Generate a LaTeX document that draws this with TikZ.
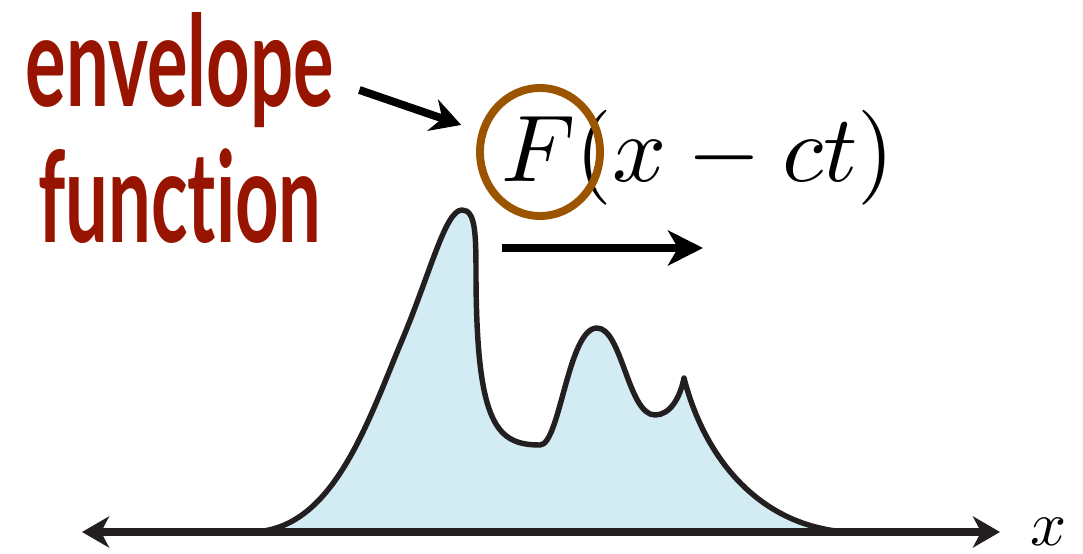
\documentclass[tikz,border=0pt]{standalone}
\usepackage{fontspec}
\usepackage{amsmath}
\usepackage{graphicx}
\usepackage{xcolor}
\usepackage{tikz}
\usetikzlibrary{arrows.meta, positioning, shapes}

\newfontfamily\labelfont[FakeStretch=0.6, Ligatures=NoCommon]{Lato}

\definecolor{wordred}{HTML}{961400}
\definecolor{ringbrown}{HTML}{9B5500}
\definecolor{pulsefill}{HTML}{D3ECF3}
\definecolor{inkblack}{HTML}{231F20}

\begin{document}
\begin{tikzpicture}[
    x=0.2mm, y=-0.2mm,
    node distance=4mm,
    word/.style={
        font=\labelfont\bfseries\fontsize{72}{76}\selectfont,
        text=wordred,
        inner sep=0pt
    },
    formula/.style={inner sep=0pt},
    ring/.style={
        ellipse,
        draw=ringbrown,
        line width=4.5pt,
        minimum width=24mm,
        minimum height=25.6mm,
        inner sep=0pt
    },
    pulse/.style={draw=inkblack, line width=3.1pt, fill=pulsefill, line join=round},
    axisline/.style={
        {Stealth[length=5.4mm, width=6.2mm, inset=1.6mm]}-{Stealth[length=5.4mm, width=6.2mm, inset=1.6mm]},
        draw=inkblack, line width=4pt
    },
    pointer/.style={-{Stealth[length=6mm, width=6.6mm, inset=2mm]}, line width=4.5pt},
    pusharrow/.style={-{Stealth[length=7mm, width=7mm, inset=2mm]}, line width=4.5pt}
]

\useasboundingbox (0,0) rectangle (1083,554);

\filldraw[pulse] (250,532)
    .. controls (330,532) and (365,430) .. (400,345)
    .. controls (430,275) and (445,210) .. (462,210)
    .. controls (476,210) and (476,235) .. (476,280)
    .. controls (477,425) and (497,445) .. (540,445)
    .. controls (560,445) and (568,328) .. (597,328)
    .. controls (622,328) and (628,415) .. (655,415)
    .. controls (670,415) and (680,398) .. (684,378)
    .. controls (705,460) and (760,525) .. (845,532)
    -- cycle;

\coordinate (axisstart) at (82,532);
\coordinate (axisend) at (1000,532);
\draw[axisline] (axisstart) -- (axisend);
\node[formula] (xlabel) at (1049,532) {\scalebox{3.6}{$x$}};

\node[formula, anchor=base] (wave) at (698,182) {\scalebox{5.4}{$F(x-ct)$}};
\node[ring] (ring) at (540,152) {};

\coordinate (pushtail) at (502,248);
\coordinate (pushhead) at (703,248);
\draw[pusharrow] (pushtail) -- (pushhead);

\node[word, anchor=base] (envword) at (180,107) {envelope};
\node[word, below=of envword] (funcword) {function};

\draw[pointer, shorten >=3.8mm] ([shift={(25,-17)}]envword.base east) -- (ring);

\end{tikzpicture}
\end{document}
